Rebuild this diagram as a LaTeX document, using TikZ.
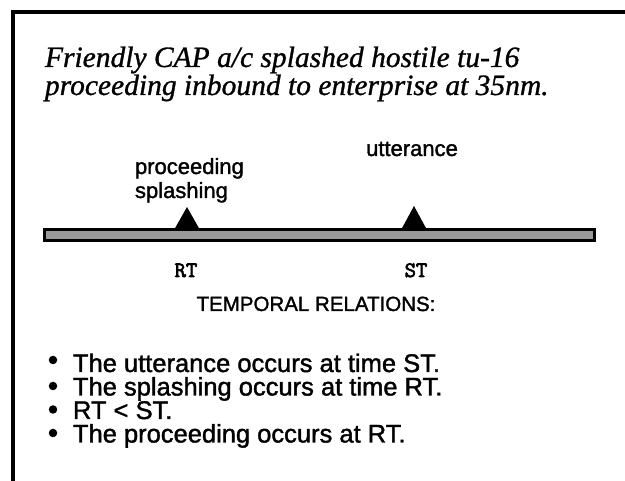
\documentclass[tikz,border=0pt]{standalone}
\usepackage{fontspec}
\setmainfont{Liberation Serif}
\setsansfont{Liberation Sans}
\newfontfamily\slideserif{Liberation Serif}[FakeBold=1]
\newfontfamily\slidesans{Liberation Sans}[FakeBold=1.5]
\newfontfamily\slidemono{Latin Modern Mono}[FakeBold=3]
\usetikzlibrary{calc}

\begin{document}
\begin{tikzpicture}[x=1pt, y=-1pt, outer sep=0pt, inner sep=0pt,
  title/.style={anchor=base west, font=\slideserif\itshape\fontsize{29.5}{31}\selectfont},
  event/.style={anchor=base west, font=\slidesans\fontsize{22}{24}\selectfont},
  time/.style={anchor=base, font=\slidemono\fontsize{22}{24}\selectfont},
  item/.style={anchor=base west, text height=18.5pt, text depth=5pt,
    font=\slidesans\fontsize{25.5}{27}\selectfont},
  dot/.style={circle, fill=black, minimum size=8.5pt},
  tick/.style={fill=black}]

\useasboundingbox (0, 0) rectangle (625, 481);

% frame
\draw [line width=4pt] (13, 481) -- (13, 12) -- (625, 12);

\node at (45, 67) (TITLE_1) [title] {Friendly CAP a/c splashed hostile tu-16};
\node at (45, 95) (TITLE_2) [title] {proceeding inbound to enterprise at 35nm.};

\node at (135, 174) (PROCEEDING) [event] {proceeding};
\node at (135, 198) (SPLASHING) [event] {splashing};
\node at (412, 156) (UTTERANCE) [event, anchor=base] {utterance};

% time line
\node at (319.5, 235.5) (TIMELINE) [draw, line width=3pt, fill=black!40,
  minimum width=550pt, minimum height=11pt] {};
\coordinate (RT) at (187, 230);
\coordinate (ST) at (414, 230);
\fill [tick] (RT) ++(-13, 0) -- ++(13, -23) -- ++(13, 23) -- cycle;
\fill [tick] (ST) ++(-13, 0) -- ++(13, -24) -- ++(13, 24) -- cycle;

\node at (186, 277) (RT_LABEL) [time] {RT};
\node at (416, 277) (ST_LABEL) [time] {ST};

\node at (316, 311) (RELATIONS) [anchor=base, font=\slidesans\fontsize{20.5}{22}\selectfont] {TEMPORAL RELATIONS:};

% relations
\node at (53, 360) (DOT_1) [dot] {};
\node at (73, 372) (REL_1) [item] {The utterance occurs at time ST.};
\node at (53, 386) (DOT_2) [dot] {};
\node at (73, 395.5) (REL_2) [item] {The splashing occurs at time RT.};
\node at (53, 409.5) (DOT_3) [dot] {};
\node at (73, 419) (REL_3) [item] {RT < ST.};
\node at (53, 433) (DOT_4) [dot] {};
\node at (73, 442.5) (REL_4) [item] {The proceeding occurs at RT.};
\end{tikzpicture}
\end{document}
